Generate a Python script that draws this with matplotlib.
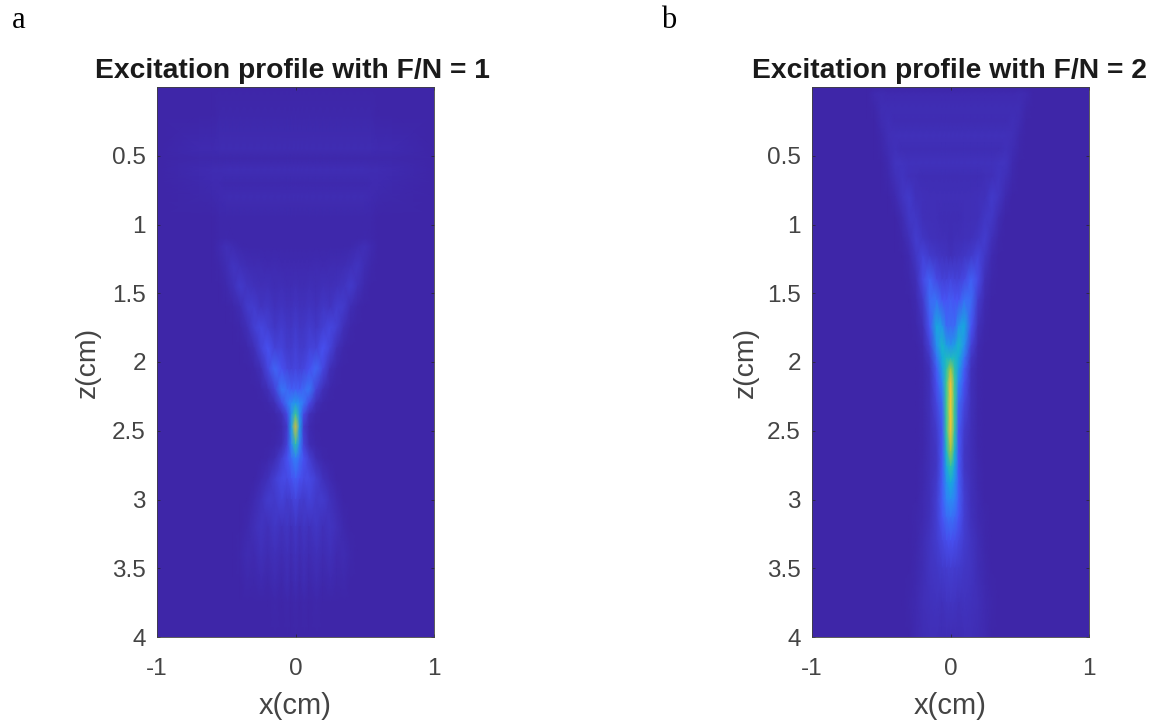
import numpy as np
import matplotlib
matplotlib.use("Agg")
import matplotlib.pyplot as plt
from matplotlib.colors import LinearSegmentedColormap

plt.rcParams['font.family'] = ['Liberation Sans', 'DejaVu Sans']
plt.rcParams['axes.unicode_minus'] = False

# half profile columns, mirrored around x = 0
x_half = [0, .03, .06, .1, .15, .2, .25, .3, .35, .4, .45, .5, .55, .6, .7, 1.0]

z_a = [0, .2, .45, .52, .6, .7, .8, .95, 1.1, 1.16, 1.3, 1.45, 1.6, 1.75, 1.9, 2.05, 2.2, 2.3, 2.38, 2.47,
       2.6, 2.7, 2.85, 3.0, 3.2, 3.4, 3.6, 3.75, 4.0]
vals_a = [
    [0, 0, 0, 0, 0, 0, 0, 0, 0, 0, 0, 0, 0, 0, 0, 0],
    [.004, .004, .004, .004, .004, .004, .004, .004, .004, .004, .004, .004, .004, .003, .002, 0],
    [.018, .018, .018, .018, .018, .018, .018, .018, .018, .018, .018, .016, .016, .015, .012, 0],
    [.006, .006, .006, .006, .006, .006, .006, .006, .006, .006, .006, .006, .006, .005, .004, 0],
    [.02, .02, .02, .02, .02, .02, .02, .02, .02, .02, .02, .02, .018, .016, .012, 0],
    [.008, .008, .008, .008, .008, .008, .008, .008, .008, .008, .008, .008, .012, .014, .01, 0],
    [.016, .016, .016, .016, .016, .016, .016, .016, .016, .016, .016, .016, .014, .008, .004, 0],
    [.004, .004, .004, .004, .004, .004, .004, .004, .004, .004, .005, .006, .004, .002, 0, 0],
    [.005, .005, .005, .005, .005, .005, .005, .005, .005, .005, .006, .008, .004, 0, 0, 0],
    [.006, .006, .006, .006, .006, .006, .006, .006, .007, .01, .016, .024, .012, 0, 0, 0],
    [.014, .012, .014, .012, .016, .014, .018, .016, .022, .028, .04, .022, .006, 0, 0, 0],
    [.024, .02, .022, .026, .022, .03, .024, .034, .042, .055, .028, .01, 0, 0, 0, 0],
    [.04, .032, .034, .042, .034, .048, .04, .065, .055, .02, .006, 0, 0, 0, 0, 0],
    [.06, .045, .05, .065, .05, .072, .09, .07, .025, .006, 0, 0, 0, 0, 0, 0],
    [.075, .06, .06, .085, .08, .12, .08, .025, .006, 0, 0, 0, 0, 0, 0, 0],
    [.09, .08, .09, .12, .17, .09, .025, .006, 0, 0, 0, 0, 0, 0, 0, 0],
    [.16, .15, .18, .21, .08, .025, .005, 0, 0, 0, 0, 0, 0, 0, 0, 0],
    [.3, .26, .2, .1, .025, .005, 0, 0, 0, 0, 0, 0, 0, 0, 0, 0],
    [.5, .28, .1, .03, .006, 0, 0, 0, 0, 0, 0, 0, 0, 0, 0, 0],
    [.68, .32, .06, .012, .002, 0, 0, 0, 0, 0, 0, 0, 0, 0, 0, 0],
    [.46, .24, .08, .02, .004, 0, 0, 0, 0, 0, 0, 0, 0, 0, 0, 0],
    [.24, .18, .12, .07, .02, .005, 0, 0, 0, 0, 0, 0, 0, 0, 0, 0],
    [.15, .12, .1, .1, .07, .035, .012, 0, 0, 0, 0, 0, 0, 0, 0, 0],
    [.09, .07, .06, .08, .055, .06, .035, .012, 0, 0, 0, 0, 0, 0, 0, 0],
    [.05, .03, .045, .035, .05, .03, .04, .025, .008, 0, 0, 0, 0, 0, 0, 0],
    [.035, .018, .03, .018, .03, .016, .028, .014, .018, .004, 0, 0, 0, 0, 0, 0],
    [.02, .006, .02, .006, .018, .006, .014, .006, .008, .003, 0, 0, 0, 0, 0, 0],
    [.006, .002, .006, .002, .005, .002, .003, .002, .001, 0, 0, 0, 0, 0, 0, 0],
    [0, 0, 0, 0, 0, 0, 0, 0, 0, 0, 0, 0, 0, 0, 0, 0],
]

z_b = [0, .05, .15, .25, .35, .45, .55, .65, .8, .95, 1.1, 1.23, 1.4, 1.55, 1.74, 1.88, 1.97, 2.05, 2.15,
       2.3, 2.5, 2.65, 2.76, 2.88, 3.0, 3.13, 3.3, 3.5, 3.75, 4.0]
vals_b = [
    [0, 0, 0, 0, 0, 0, 0, 0, 0, 0, 0, 0, 0, 0, 0, 0],
    [.012, .012, .012, .012, .012, .012, .012, .012, .012, .012, .014, .016, .012, .002, 0, 0],
    [.02, .02, .02, .02, .02, .02, .02, .02, .02, .02, .022, .022, .006, 0, 0, 0],
    [.016, .016, .016, .016, .016, .016, .016, .016, .016, .018, .024, .018, .003, 0, 0, 0],
    [.028, .028, .028, .028, .028, .028, .028, .028, .028, .03, .026, .01, 0, 0, 0, 0],
    [.02, .02, .02, .02, .02, .02, .02, .02, .022, .03, .022, .004, 0, 0, 0, 0],
    [.034, .034, .034, .034, .034, .034, .034, .034, .036, .038, .012, 0, 0, 0, 0, 0],
    [.022, .022, .022, .022, .022, .022, .024, .03, .04, .03, .008, 0, 0, 0, 0, 0],
    [.026, .026, .026, .026, .026, .028, .032, .055, .04, .012, 0, 0, 0, 0, 0, 0],
    [.02, .02, .02, .024, .026, .03, .05, .05, .016, .002, 0, 0, 0, 0, 0, 0],
    [.02, .024, .026, .03, .035, .045, .065, .03, .006, 0, 0, 0, 0, 0, 0, 0],
    [.03, .036, .04, .05, .06, .085, .05, .012, 0, 0, 0, 0, 0, 0, 0, 0],
    [.09, .08, .08, .1, .16, .1, .025, .004, 0, 0, 0, 0, 0, 0, 0, 0],
    [.15, .13, .13, .2, .18, .06, .012, 0, 0, 0, 0, 0, 0, 0, 0, 0],
    [.18, .18, .3, .35, .13, .03, .005, 0, 0, 0, 0, 0, 0, 0, 0, 0],
    [.28, .32, .4, .28, .08, .015, 0, 0, 0, 0, 0, 0, 0, 0, 0, 0],
    [.42, .42, .36, .2, .05, .008, 0, 0, 0, 0, 0, 0, 0, 0, 0, 0],
    [.62, .46, .32, .15, .035, .005, 0, 0, 0, 0, 0, 0, 0, 0, 0, 0],
    [.78, .5, .25, .12, .03, .004, 0, 0, 0, 0, 0, 0, 0, 0, 0, 0],
    [.83, .5, .18, .09, .028, .004, 0, 0, 0, 0, 0, 0, 0, 0, 0, 0],
    [.8, .48, .14, .06, .026, .006, 0, 0, 0, 0, 0, 0, 0, 0, 0, 0],
    [.62, .4, .14, .05, .025, .006, 0, 0, 0, 0, 0, 0, 0, 0, 0, 0],
    [.48, .34, .14, .05, .025, .008, 0, 0, 0, 0, 0, 0, 0, 0, 0, 0],
    [.36, .28, .15, .06, .028, .01, 0, 0, 0, 0, 0, 0, 0, 0, 0, 0],
    [.27, .24, .15, .07, .03, .012, .002, 0, 0, 0, 0, 0, 0, 0, 0, 0],
    [.2, .18, .13, .07, .035, .015, .004, 0, 0, 0, 0, 0, 0, 0, 0, 0],
    [.12, .11, .09, .065, .04, .02, .006, 0, 0, 0, 0, 0, 0, 0, 0, 0],
    [.07, .065, .06, .05, .04, .022, .01, 0, 0, 0, 0, 0, 0, 0, 0, 0],
    [.04, .04, .035, .038, .033, .025, .014, .004, 0, 0, 0, 0, 0, 0, 0, 0],
    [.022, .022, .022, .024, .025, .022, .012, .003, 0, 0, 0, 0, 0, 0, 0, 0],
]

titles = ['Excitation profile with F/N = 1', 'Excitation profile with F/N = 2']
panel_letters = ['a', 'b']
yticks = [0.5, 1, 1.5, 2, 2.5, 3, 3.5, 4]
ytick_labels = ['0.5', '1', '1.5', '2', '2.5', '3', '3.5', '4']
xticks = [-1, 0, 1]

parula = LinearSegmentedColormap.from_list('parula', [
    (0.2422, 0.1504, 0.6603), (0.2810, 0.3228, 0.9579), (0.1786, 0.5289, 0.9682),
    (0.0689, 0.6948, 0.8394), (0.2161, 0.7843, 0.5923), (0.6720, 0.7793, 0.2227),
    (0.9970, 0.7250, 0.2010), (0.9650, 0.8200, 0.1500), (0.9763, 0.9831, 0.0538)])

W, H = 1167, 724
fig = plt.figure(figsize=(W / 100, H / 100), dpi=100)


def mirror(vals):
    vals = np.array(vals)
    return np.hstack([vals[:, :0:-1], vals])


x_full = np.array([-v for v in x_half[:0:-1]] + x_half)

for i, (z, vals, left) in enumerate([(z_a, vals_a, 157), (z_b, vals_b, 812)]):
    ax = fig.add_axes([left / W, 1 - 637 / H, 277 / W, 550 / H])
    ax.pcolormesh(x_full, z, mirror(vals), cmap=parula, vmin=0, vmax=1, shading='gouraud')
    ax.set_xlim(-1, 1)
    ax.set_ylim(4, 0)
    ax.set_xticks(xticks)
    ax.set_yticks(yticks)
    ax.set_yticklabels(ytick_labels)
    ax.tick_params(direction='in', length=2, width=0.5, color='#262626', labelcolor='#444444',
                   labelsize=17.5, top=True, right=True)
    ax.tick_params(axis='x', pad=15)
    ax.tick_params(axis='y', pad=8)
    for s in ax.spines.values():
        s.set_linewidth(0.6)
        s.set_color('#404040')
    ax.set_xlabel('x(cm)', fontsize=21, color='#444444', labelpad=9)
    ax.set_ylabel('z(cm)', fontsize=20.5, color='#444444', labelpad=[8, 6][i])
    # panel a's title sits a little left of its axes centre
    ax.text([292.5, 950][i] / W, 1 - 71 / H, titles[i], transform=fig.transFigure, fontsize=20.3,
            fontweight='bold', color='#1a1a1a', ha='center', va='center')
    fig.text([12, 661][i] / W, 1 - 20 / H, panel_letters[i], family='Liberation Serif',
             fontsize=22, color='black', va='center')

fig.savefig('out.png', dpi=100)
